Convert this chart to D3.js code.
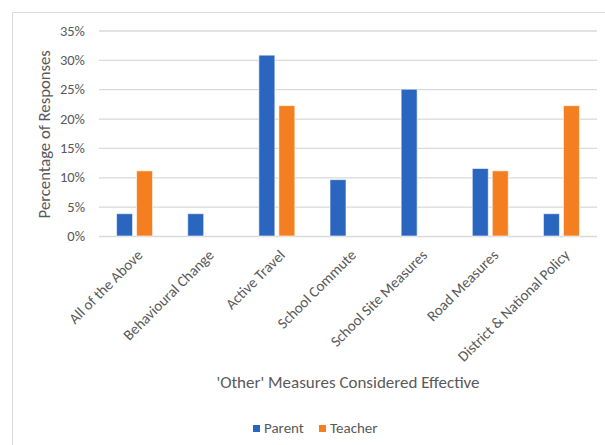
<!DOCTYPE html>
<html>
<head>
<meta charset="utf-8">
<script src="https://cdn.jsdelivr.net/npm/d3@7"></script>
<style>
  html, body { margin: 0; padding: 0; background: #fff; }
  svg { display: block; }
  text { font-family: Carlito, Calibri, Lato, "Open Sans", sans-serif; fill: #595959; }
</style>
</head>
<body>
<svg id="chart" width="605" height="445"></svg>
<script>
const categories = [
  "All of the Above",
  "Behavioural Change",
  "Active Travel",
  "School Commute",
  "School Site Measures",
  "Road Measures",
  "District & National Policy"
];
const seriesNames = ["Parent", "Teacher"];
const parentValues = [3.8, 3.8, 30.8, 9.6, 25.0, 11.5, 3.8];
const teacherValues = [11.1, 0, 22.2, 0, 0, 11.1, 22.2];
const yTicks = [0, 5, 10, 15, 20, 25, 30, 35];
const colors = ["#2A66BF", "#F47F20"];

const svg = d3.select("#chart");
const W = 605, H = 445;
const plot = { left: 99, right: 597, top: 30.5, bottom: 236 };
const FONT = "Carlito, Calibri, Lato, sans-serif";

// chart area frame (top and left edges visible)
svg.append("path")
  .attr("d", `M12.5,${H} V12.5 H${W}`)
  .attr("fill", "none")
  .attr("stroke", "#d9d9d9")
  .attr("stroke-width", 1);

const x = d3.scaleBand().domain(categories).range([plot.left, plot.right]).padding(0);
const bw = x.bandwidth();
const xSub = d3.scaleBand().domain(seriesNames)
  .range([(bw - 36) / 2, (bw + 36) / 2]).paddingInner(0.2).paddingOuter(0);
const y = d3.scaleLinear().domain([0, 35]).range([plot.bottom, plot.top]);

// gridlines
const yAxis = d3.axisLeft(y).tickValues(yTicks).tickFormat(d => d + "%")
  .tickSize(-(plot.right - plot.left)).tickPadding(14);
const gy = svg.append("g").attr("transform", `translate(${plot.left},0)`).call(yAxis);
gy.select(".domain").remove();
gy.selectAll(".tick line").attr("stroke", "#d9d9d9").attr("stroke-width", 1.3);
gy.selectAll(".tick text").attr("font-size", "14.5px").attr("fill", "#595959")
  .style("font-family", FONT);

// bars
const rows = categories.map((c, i) => ({ cat: c, vals: [parentValues[i], teacherValues[i]] }));
const groups = svg.append("g").selectAll("g").data(rows).join("g")
  .attr("transform", d => `translate(${x(d.cat)},0)`);
groups.selectAll("rect")
  .data(d => d.vals.map((v, k) => ({ name: seriesNames[k], v, k })).filter(e => e.v > 0))
  .join("rect")
  .attr("x", d => xSub(d.name))
  .attr("width", xSub.bandwidth())
  .attr("y", d => y(d.v))
  .attr("height", d => y(0) - y(d.v))
  .attr("fill", d => colors[d.k])
  .attr("stroke", "rgba(255,255,255,0.6)")
  .attr("stroke-width", 1);

// category labels, rotated
const xAxis = d3.axisBottom(x).tickSize(0).tickPadding(0);
const gx = svg.append("g").attr("transform", `translate(0,${plot.bottom})`).call(xAxis);
gx.select(".domain").remove();
gx.selectAll(".tick text")
  .attr("font-size", "15px")
  .attr("fill", "#595959")
  .style("font-family", FONT)
  .attr("text-anchor", "end")
  .attr("dy", null)
  .attr("y", 0)
  .attr("transform", "translate(9,20) rotate(-45)");

// axis titles
svg.append("text")
  .attr("transform", `translate(50,${(plot.top + plot.bottom) / 2 + 1}) rotate(-90)`)
  .attr("text-anchor", "middle")
  .attr("font-size", "16.7px")
  .text("Percentage of Responses");

svg.append("text")
  .attr("x", (plot.left + plot.right) / 2)
  .attr("y", 388)
  .attr("text-anchor", "middle")
  .attr("font-size", "17px")
  .text("'Other' Measures Considered Effective");

// legend
const legendItems = [{ name: "Parent", x: 253 }, { name: "Teacher", x: 319 }];
const lg = svg.append("g").selectAll("g").data(legendItems).join("g")
  .attr("transform", d => `translate(${d.x},0)`);
lg.append("rect").attr("x", 0).attr("y", 425).attr("width", 7).attr("height", 7)
  .attr("fill", (d, i) => colors[i]);
lg.append("text").attr("x", 11).attr("y", 433).attr("font-size", "15px").text(d => d.name);
</script>
</body>
</html>
